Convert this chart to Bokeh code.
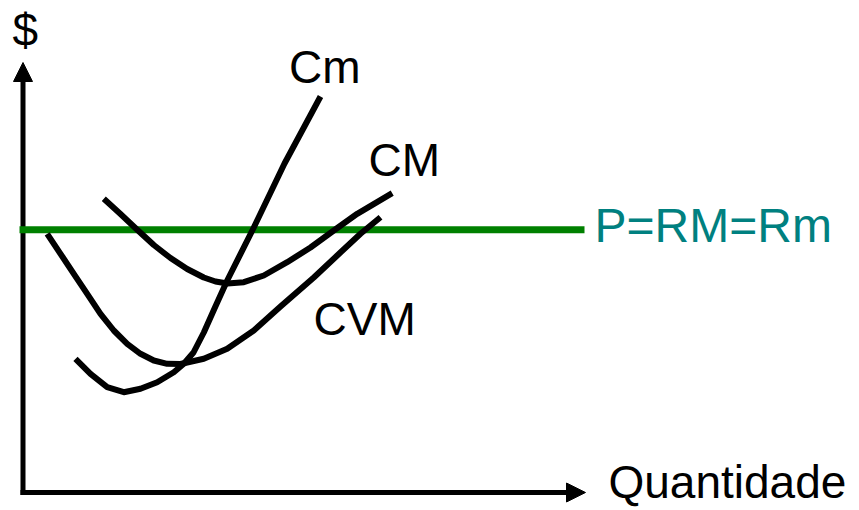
from bokeh.plotting import figure
from bokeh.models import Range1d, Arrow, NormalHead
from bokeh.core.properties import value
from bokeh.embed import file_html
from bokeh.resources import INLINE

# ---- data (quantity, $), origin at the corner of the axes ----
# Cm (custo marginal)
cm_q = [52.5, 67.5, 84.2, 100.8, 117.5, 134.2, 150.8, 160.8, 170.5, 180.8, 191.5, 204.2, 230.8, 261.5, 297.5]
cm_c = [133.7, 118.7, 105.3, 100.3, 103.7, 110.3, 120.3, 128.7, 140, 160, 184, 212, 265, 329, 396]

# CM (custo médio)
cme_q = [80.8, 97.5, 114.2, 130.8, 147.5, 164.2, 180.8, 192.5, 204.5, 220.8, 240.8, 264.2, 287.5, 310.8, 334.2, 369.2]
cme_c = [293.7, 278.5, 262.7, 247.5, 234.5, 223.5, 215, 211, 209, 210.3, 217, 230.3, 245, 262, 278.7, 299.3]

# CVM (custo variável médio)
cvm_q = [24.2, 37.5, 50.8, 64.2, 77.5, 90.8, 104.2, 117.5, 130.8, 144.2, 157.5, 180.8, 204.2, 230.8,
         257.5, 290.8, 314.2, 337.5, 357.5]
cvm_c = [258.7, 238.7, 218.7, 198.7, 178.7, 162, 148.7, 138.7, 132, 128.7, 128.5, 133.7, 143.7, 162,
         186, 215, 237, 258.7, 275.3]

price_level = 262.7
price_q = [-3.5, 561.5]

axis_q_end = 562.5
axis_c_end = 430.0

label_texts = ["$", "Cm", "CM", "CVM"]
price_label = "P=RM=Rm"
q_label = "Quantidade"

# ---- figure ----
W, H = 859, 510
p = figure(width=W, height=H, output_backend="svg", toolbar_location=None,
           x_range=Range1d(-22.5, 836.5), y_range=Range1d(-18, 492),
           x_axis_location=None, y_axis_location=None, min_border=0)
p.grid.visible = False
p.outline_line_color = None
p.background_fill_color = "white"
p.border_fill_color = "white"

# axes
p.segment(x0=[-2.5, 0], y0=[0, -2.5], x1=[axis_q_end - 17, 0], y1=[0, axis_c_end - 17],
          line_color="black", line_width=5)
p.add_layout(Arrow(end=NormalHead(size=19, fill_color="black", line_color="black", line_width=1),
                   x_start=axis_q_end - 19, y_start=0, x_end=axis_q_end, y_end=0,
                   line_alpha=0))
p.add_layout(Arrow(end=NormalHead(size=19, fill_color="black", line_color="black", line_width=1),
                   x_start=0, y_start=axis_c_end - 19, x_end=0, y_end=axis_c_end,
                   line_alpha=0))

# price line
p.line(price_q, [price_level, price_level], line_color="#008000", line_width=7)

# curves
for qs, cs in [(cme_q, cme_c), (cvm_q, cvm_c), (cm_q, cm_c)]:
    p.line(qs, cs, line_color="black", line_width=6, line_join="round")

font = value("Liberation Sans")
lx = [-10.5, 266, 345.5, 290.5]
ly = [462.5, 425.7, 333, 174]
p.text(x=lx, y=ly, text=label_texts, text_font=font, text_font_size="46px",
       text_color="black", text_align="left", text_baseline="alphabetic")
p.text(x=[571.5], y=[267], text=[price_label], text_font=font, text_font_size="48px",
       text_color="#008080", text_align="left", text_baseline="alphabetic")
p.text(x=[585.5], y=[10.5], text=[q_label], text_font=font, text_font_size="46px",
       text_color="black", text_align="left", text_baseline="alphabetic")

open("out.html", "w").write(file_html(p, INLINE))
